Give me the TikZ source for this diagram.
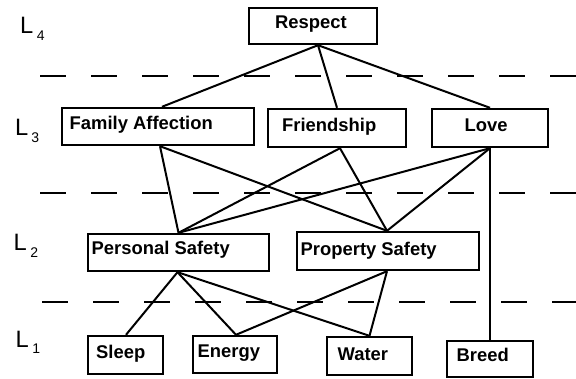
\documentclass[tikz,border=0pt]{standalone}
\usepackage{fontspec}
\setmainfont{Liberation Sans}
\begin{document}
\begin{tikzpicture}[x=1pt,y=-1pt,
  box/.style={draw, line width=2.4pt, inner sep=0pt},
  lbl/.style={anchor=base west, inner sep=0pt, font=\fontsize{18.4}{20}\selectfont\bfseries},
  conn/.style={line width=2pt},
  level/.style={line width=2.2pt, dash pattern=on 26pt off 25pt},
  lev/.style={anchor=base west, inner sep=0pt, font=\fontsize{23.7}{24}\selectfont}]
\useasboundingbox (0,0) rectangle (576,378);
% level separators
\draw[level] (40,76) -- (576,76);
\draw[level] (40,193) -- (576,193);
\draw[level] (42,302) -- (576,302);
% level labels
\node[lev] (l4) at (20,33) {L\kern3.5pt\raisebox{-7pt}{\fontsize{14}{14}\selectfont 4}};
\node[lev] (l3) at (15,135) {L\kern3pt\raisebox{-7pt}{\fontsize{14}{14}\selectfont 3}};
\node[lev] (l2) at (13.5,250) {L\kern3.5pt\raisebox{-7pt}{\fontsize{14}{14}\selectfont 2}};
\node[lev] (l1) at (15.5,347) {L\kern3.5pt\raisebox{-6pt}{\fontsize{14}{14}\selectfont 1}};
% boxes
\node[box, minimum width=128pt, minimum height=36pt] (re) at (313,26) {};
\node[box, minimum width=192pt, minimum height=37pt] (fa) at (158,126.5) {};
\node[box, minimum width=138pt, minimum height=38pt] (fr) at (337,128) {};
\node[box, minimum width=116pt, minimum height=38pt] (lo) at (490,128) {};
\node[box, minimum width=181pt, minimum height=37pt] (ps) at (178.5,252.5) {};
\node[box, minimum width=182pt, minimum height=38pt] (pr) at (388,251) {};
\node[box, minimum width=75pt, minimum height=38pt] (sl) at (125.5,355) {};
\node[box, minimum width=84pt, minimum height=37pt] (en) at (235,354.5) {};
\node[box, minimum width=85pt, minimum height=38pt] (wa) at (369.5,356) {};
\node[box, minimum width=86pt, minimum height=36pt] (br) at (490,359) {};
% texts
\node[lbl] (ret) at (275,28.3) {Respect};
\node[lbl] (fat) at (69.5,129) {Family Affection};
\node[lbl] (frt) at (282,131) {Friendship};
\node[lbl] (lot) at (464.5,131) {Love};
\node[lbl] (pst) at (91.5,254.3) {Personal Safety};
\node[lbl] (prt) at (300.5,255) {Property Safety};
\node[lbl] (slt) at (96,358.3) {Sleep};
\node[lbl] (ent) at (197.5,357.7) {Energy};
\node[lbl] (wat) at (337.5,360) {Water};
\node[lbl] (brt) at (456.5,361.7) {Breed};
% connectors
\draw[conn] ([xshift=5pt]re.south) -- ([xshift=4pt]fa.north);
\draw[conn] ([xshift=5pt]re.south) -- (fr.north);
\draw[conn] ([xshift=5pt]re.south) -- (lo.north);
\draw[conn] ([xshift=2pt]fa.south) -- (ps.north);
\draw[conn] ([xshift=2pt]fa.south) -- ([xshift=-1pt]pr.north);
\draw[conn] ([xshift=3pt]fr.south) -- (ps.north);
\draw[conn] ([xshift=3pt]fr.south) -- ([xshift=-1pt]pr.north);
\draw[conn] (lo.south) -- (ps.north);
\draw[conn] (lo.south) -- ([xshift=-1pt]pr.north);
\draw[conn] (lo.south) -- (br.north);
\draw[conn] ([xshift=-1pt]ps.south) -- ([xshift=0.5pt]sl.north);
\draw[conn] ([xshift=-1pt]ps.south) -- ([xshift=1pt]en.north);
\draw[conn] ([xshift=-1pt]ps.south) -- (wa.north);
\draw[conn] ([xshift=-1pt]pr.south) -- ([xshift=1pt]en.north);
\draw[conn] ([xshift=-1pt]pr.south) -- (wa.north);
\end{tikzpicture}
\end{document}
